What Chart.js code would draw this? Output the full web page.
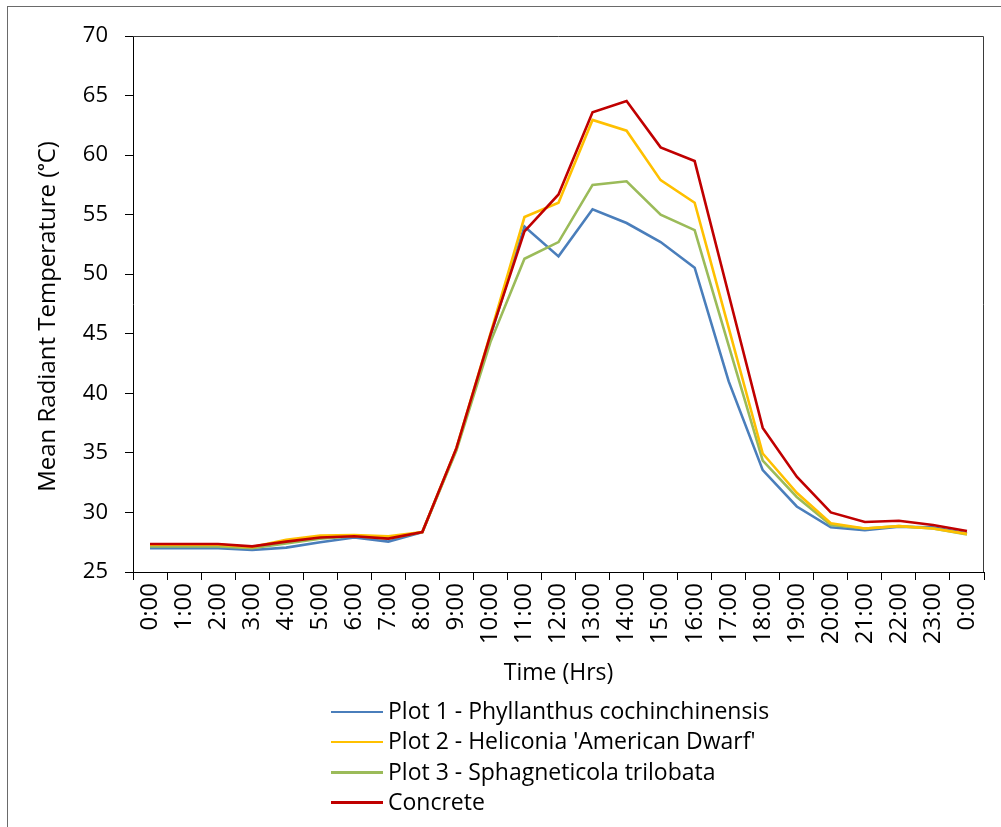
<!DOCTYPE html>
<html>
<head>
<meta charset="utf-8">
<script src="https://cdn.jsdelivr.net/npm/chart.js@4/dist/chart.umd.min.js"></script>
<style>
    html, body { margin: 0; padding: 0; background: #fff; }
    #wrap { position: relative; width: 1001px; height: 827px; overflow: hidden; }
    #frame { position: absolute; left: 7px; top: 6px; width: 1100px; height: 900px;
             border-left: 1.5px solid #6a6a6a; border-top: 1.5px solid #6a6a6a; }
    #grafico { position: absolute; left: 0; top: 0; }
    #legenda { position: absolute; left: 331px; top: 695px; font-family: "Open Sans", Lato, sans-serif;
               font-size: 23px; color: #000; }
    .item { height: 30.3px; line-height: 30px; white-space: nowrap; }
    .amostra { display: inline-block; width: 52px; height: 2.5px; vertical-align: middle;
               margin-right: 5px; position: relative; top: -1px; }
</style>
</head>
<body>
<div id="wrap">
    <div id="frame"></div>
    <canvas id="grafico" width="1001" height="827"></canvas>
    <div id="legenda"></div>
</div>
<script>
var horas = ['0:00', '1:00', '2:00', '3:00', '4:00', '5:00', '6:00', '7:00', '8:00', '9:00',
             '10:00', '11:00', '12:00', '13:00', '14:00', '15:00', '16:00', '17:00', '18:00',
             '19:00', '20:00', '21:00', '22:00', '23:00', '0:00'];

var plot1 = [27.0, 27.0, 27.0, 26.85, 27.05, 27.5, 27.9, 27.55, 28.35, 35.3, 44.8, 54.0, 51.5,
             55.45, 54.3, 52.7, 50.55, 41.0, 33.55, 30.5, 28.75, 28.5, 28.8, 28.75, 28.25];
var plot2 = [27.3, 27.3, 27.3, 27.1, 27.7, 28.05, 28.1, 28.0, 28.35, 35.4, 45.0, 54.8, 56.0,
             62.95, 62.05, 57.9, 56.0, 45.5, 34.95, 31.65, 29.1, 28.65, 28.85, 28.65, 28.2];
var plot3 = [27.15, 27.15, 27.15, 27.0, 27.4, 27.8, 28.0, 27.8, 28.35, 35.2, 44.3, 51.3, 52.7,
             57.5, 57.8, 55.0, 53.7, 44.0, 34.35, 31.3, 28.95, 28.65, 28.85, 28.65, 28.15];
var concreto = [27.35, 27.35, 27.35, 27.15, 27.55, 27.9, 28.0, 27.8, 28.35, 35.4, 44.9, 53.6, 56.7,
                63.6, 64.55, 60.65, 59.5, 48.3, 37.1, 33.0, 30.0, 29.2, 29.3, 28.95, 28.45];

var nomes = ['Plot 1 - Phyllanthus cochinchinensis', "Plot 2 - Heliconia 'American Dwarf'",
             'Plot 3 - Sphagneticola trilobata', 'Concrete'];
var cores = ['#4a7ebb', '#ffc000', '#9bbb59', '#c00000'];

var fonte = '"Open Sans", Lato, sans-serif';

// moldura da area do grafico (topo e direita)
var bordaPlot = {
    id: 'bordaPlot',
    afterDraw: function (chart) {
        var a = chart.chartArea, ctx = chart.ctx;
        ctx.save();
        ctx.strokeStyle = '#3a3a3a';
        ctx.lineWidth = 1;
        ctx.beginPath();
        ctx.moveTo(a.left, a.top + 0.5);
        ctx.lineTo(a.right - 0.5, a.top + 0.5);
        ctx.lineTo(a.right - 0.5, a.bottom);
        ctx.stroke();
        ctx.restore();
    }
};

function serie(i, dados, ordem) {
    return {
        label: nomes[i], data: dados, borderColor: cores[i], backgroundColor: cores[i],
        borderWidth: 2.6, pointRadius: 0, tension: 0, fill: false, order: ordem
    };
}

var chart = new Chart(document.getElementById('grafico'), {
    type: 'line',
    data: {
        labels: horas,
        datasets: [serie(0, plot1, 3), serie(1, plot2, 1), serie(2, plot3, 2), serie(3, concreto, 0)]
    },
    options: {
        responsive: false, animation: false,
        layout: { padding: { top: 36, right: 17, bottom: 140, left: 0 } },
        plugins: { legend: { display: false }, tooltip: { enabled: false } },
        scales: {
            x: {
                offset: true,
                grid: { offset: true, drawOnChartArea: false, tickLength: 8, color: '#000' },
                border: { color: '#000', width: 1 },
                ticks: { minRotation: 90, maxRotation: 90, autoSkip: false, padding: 3,
                         color: '#000', font: { family: fonte, size: 24 } },
                title: { display: true, text: 'Time (Hrs)', color: '#000', padding: 0,
                         font: { family: fonte, size: 23 } },
                afterFit: function (s) { s.height = 115; }
            },
            y: {
                min: 25, max: 70,
                grid: { drawOnChartArea: false, tickLength: 8, color: '#000' },
                border: { color: '#000', width: 1 },
                ticks: { stepSize: 5, padding: 17, color: '#000', font: { family: fonte, size: 22 } },
                // espacos no fim empurram o titulo um pouco para baixo
                title: { display: true, text: 'Mean Radiant Temperature (ᵒC)\u00a0\u00a0\u00a0\u00a0', color: '#000',
                         padding: { top: 34, bottom: 0 }, font: { family: fonte, size: 24 } },
                afterFit: function (s) { s.width = 133; }
            }
        }
    },
    plugins: [bordaPlot]
});

// legenda em coluna, como no original
var leg = document.getElementById('legenda');
for (var i = 0; i < nomes.length; i++) {
    leg.innerHTML += '<div class="item"><span class="amostra" style="background:' + cores[i] +
        '"></span>' + nomes[i].replace(/'/g, '&#39;') + '</div>';
}
</script>
</body>
</html>
